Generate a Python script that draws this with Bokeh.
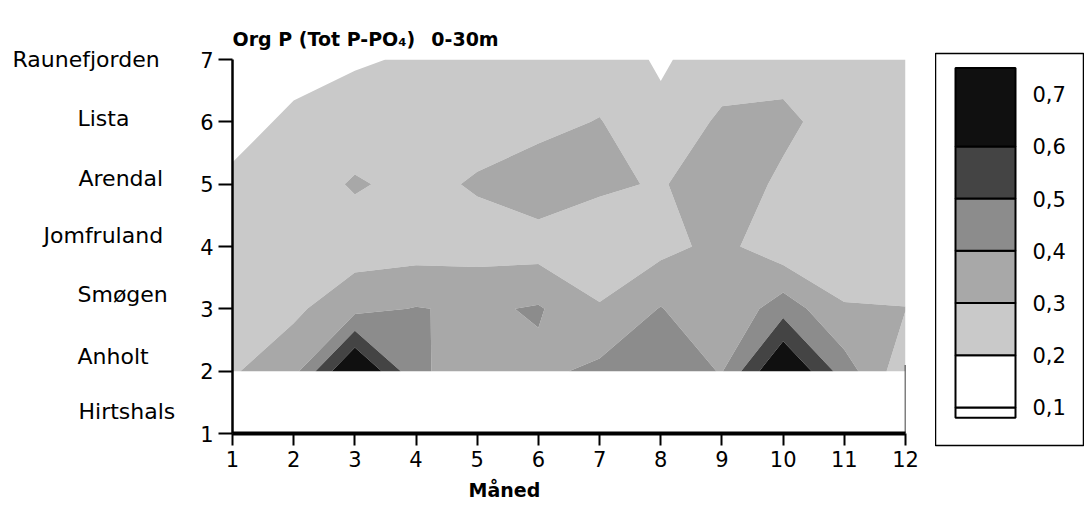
import numpy as np
from bokeh.plotting import figure
from bokeh.layouts import row
from bokeh.models import Range1d, FixedTicker, Title
from bokeh.core.properties import value
from bokeh.embed import file_html
from bokeh.resources import INLINE

# ---------------- data ----------------
months = [1, 2, 3, 4, 5, 6, 7, 8, 9, 10, 11, 12]
station_names = ["Hirtshals", "Anholt", "Smøgen", "Jomfruland", "Arendal", "Lista", "Raunefjorden"]
station_pos = [1, 2, 3, 4, 5, 6, 7]
data_rows = [2, 3, 4, 5, 6, 7]          # Hirtshals (1) has no data

# Org P, one list per station, months 1..12 (read from the shading)
org_p_anholt       = [0.29, 0.367, 0.74, 0.42, 0.34, 0.377, 0.423, 0.45, 0.395, 0.73, 0.45, 0.233]
org_p_smogen       = [0.25, 0.28, 0.37, 0.405, 0.384, 0.41, 0.31, 0.405, 0.305, 0.46, 0.305, 0.302]
org_p_jomfruland   = [0.24, 0.25, 0.25, 0.255, 0.259, 0.257, 0.22, 0.27, 0.329, 0.232, 0.26, 0.25]
org_p_arendal      = [0.227, 0.25, 0.31, 0.273, 0.31, 0.356, 0.32, 0.29, 0.37, 0.277, 0.25, 0.24]
org_p_lista        = [0.15, 0.226, 0.245, 0.25, 0.26, 0.27, 0.305, 0.219, 0.32, 0.329, 0.241, 0.24]
org_p_raunefjorden = [0.12, 0.15, 0.19, 0.21, 0.23, 0.24, 0.24, 0.19, 0.24, 0.25, 0.24, 0.23]

levels = [0.08, 0.1, 0.2, 0.3, 0.4, 0.5, 0.6, 0.75]
level_colors = ["#ffffff", "#ffffff", "#c9c9c9", "#a8a8a8", "#8c8c8c", "#444444", "#101010"]
legend_ticks = [0.1, 0.2, 0.3, 0.4, 0.5, 0.6, 0.7]
legend_labels = ["0,1", "0,2", "0,3", "0,4", "0,5", "0,6", "0,7"]

title_text = "Org P (Tot P-PO\u2084)\u2002 0-30m"
x_title = "Måned"

FONT = "DejaVu Sans"

# ---------------- station-name column ----------------
NAMES_W = 185
PX_PER_ST = 374.0 / 6.0          # same vertical scale as the main plot (59..433 px for 1..7)
nm_top, nm_bot = 30, 49
names = figure(width=NAMES_W, height=509, x_range=Range1d(0, NAMES_W),
               y_range=Range1d(1 - (509 - nm_bot - 433) / PX_PER_ST, 7 + (59 - nm_top) / PX_PER_ST),
               output_backend="svg", toolbar_location=None,
               x_axis_type=None, y_axis_type=None, frame_align=False,
               min_border_left=0, min_border_right=0, min_border_top=nm_top, min_border_bottom=nm_bot)
names.outline_line_color = None
names.xgrid.visible = False
names.ygrid.visible = False
name_px = [78, 77, 77, 43, 78, 77, 12]
name_dy = [-22, -15, -14, -11, -6, -3, 0]
names.text(x=name_px, y=station_pos, text=station_names, y_offset=name_dy,
           text_font=value(FONT), text_font_size="22px", text_baseline="middle",
           text_align="left", text_color="black")

# ---------------- main contour plot ----------------
z = np.array([org_p_anholt, org_p_smogen, org_p_jomfruland,
              org_p_arendal, org_p_lista, org_p_raunefjorden])

p = figure(width=935 - NAMES_W, height=509, x_range=Range1d(1, 12), y_range=Range1d(1, 7),
           output_backend="svg", toolbar_location=None,
           min_border_left=232 - NAMES_W, min_border_right=30, min_border_top=59, min_border_bottom=76)
p.outline_line_color = None
p.xgrid.visible = False
p.ygrid.visible = False
p.background_fill_color = "white"

p.contour(np.array(months, dtype=float), np.array(data_rows, dtype=float), z, levels,
          fill_color=level_colors, line_color=None)

# right edge of the empty Hirtshals band
p.segment(x0=[months[-1]], y0=[station_pos[0]], x1=[months[-1]], y1=[data_rows[0] + 0.1],
          line_color="black", line_width=1.5)

p.title.text = title_text
p.title.text_font = FONT
p.title.text_font_size = "19px"
p.title.text_font_style = "bold"
p.title.text_color = "black"
p.title.align = "left"
p.title.offset = 0
p.title.standoff = 19

xa = p.xaxis[0]
xa.ticker = FixedTicker(ticks=months)
xa.axis_line_width = 4
xa.major_tick_line_width = 2
xa.major_tick_out = 12
xa.major_tick_in = 0
xa.minor_tick_line_color = None
xa.major_label_text_font = FONT
xa.major_label_text_font_size = "21px"
xa.major_label_text_color = "black"
xa.major_label_standoff = 5

p.add_layout(Title(text=x_title, align="left", offset=236, standoff=15,
                   text_font=FONT, text_font_size="19px", text_font_style="bold",
                   text_color="black"), "below")

ya = p.yaxis[0]
ya.ticker = FixedTicker(ticks=station_pos)
ya.axis_line_width = 2.5
ya.major_tick_line_width = 2
ya.major_tick_out = 14
ya.major_tick_in = 0
ya.minor_tick_line_color = None
ya.major_label_text_font = FONT
ya.major_label_text_font_size = "21px"
ya.major_label_text_color = "black"
ya.major_label_standoff = 5

# ---------------- legend ----------------
lg = figure(width=149, height=509, x_range=Range1d(0, 149), y_range=Range1d(0.027, 0.778),
            output_backend="svg", toolbar_location=None, frame_align=False,
            x_axis_type=None, y_axis_type=None,
            min_border_left=0, min_border_right=0, min_border_top=53, min_border_bottom=64)
lg.xgrid.visible = False
lg.ygrid.visible = False
lg.outline_line_color = "black"
lg.outline_line_width = 1.5

lg.quad(left=20, right=80, bottom=levels[:-1], top=levels[1:],
        fill_color=level_colors, line_color="black", line_width=2)
lg.text(x=[97] * len(legend_ticks), y=legend_ticks, text=legend_labels,
        text_font=value(FONT), text_font_size="21px", text_baseline="middle",
        text_align="left", text_color="black")

layout = row(names, p, lg)
open("out.html", "w").write(file_html(layout, INLINE))
